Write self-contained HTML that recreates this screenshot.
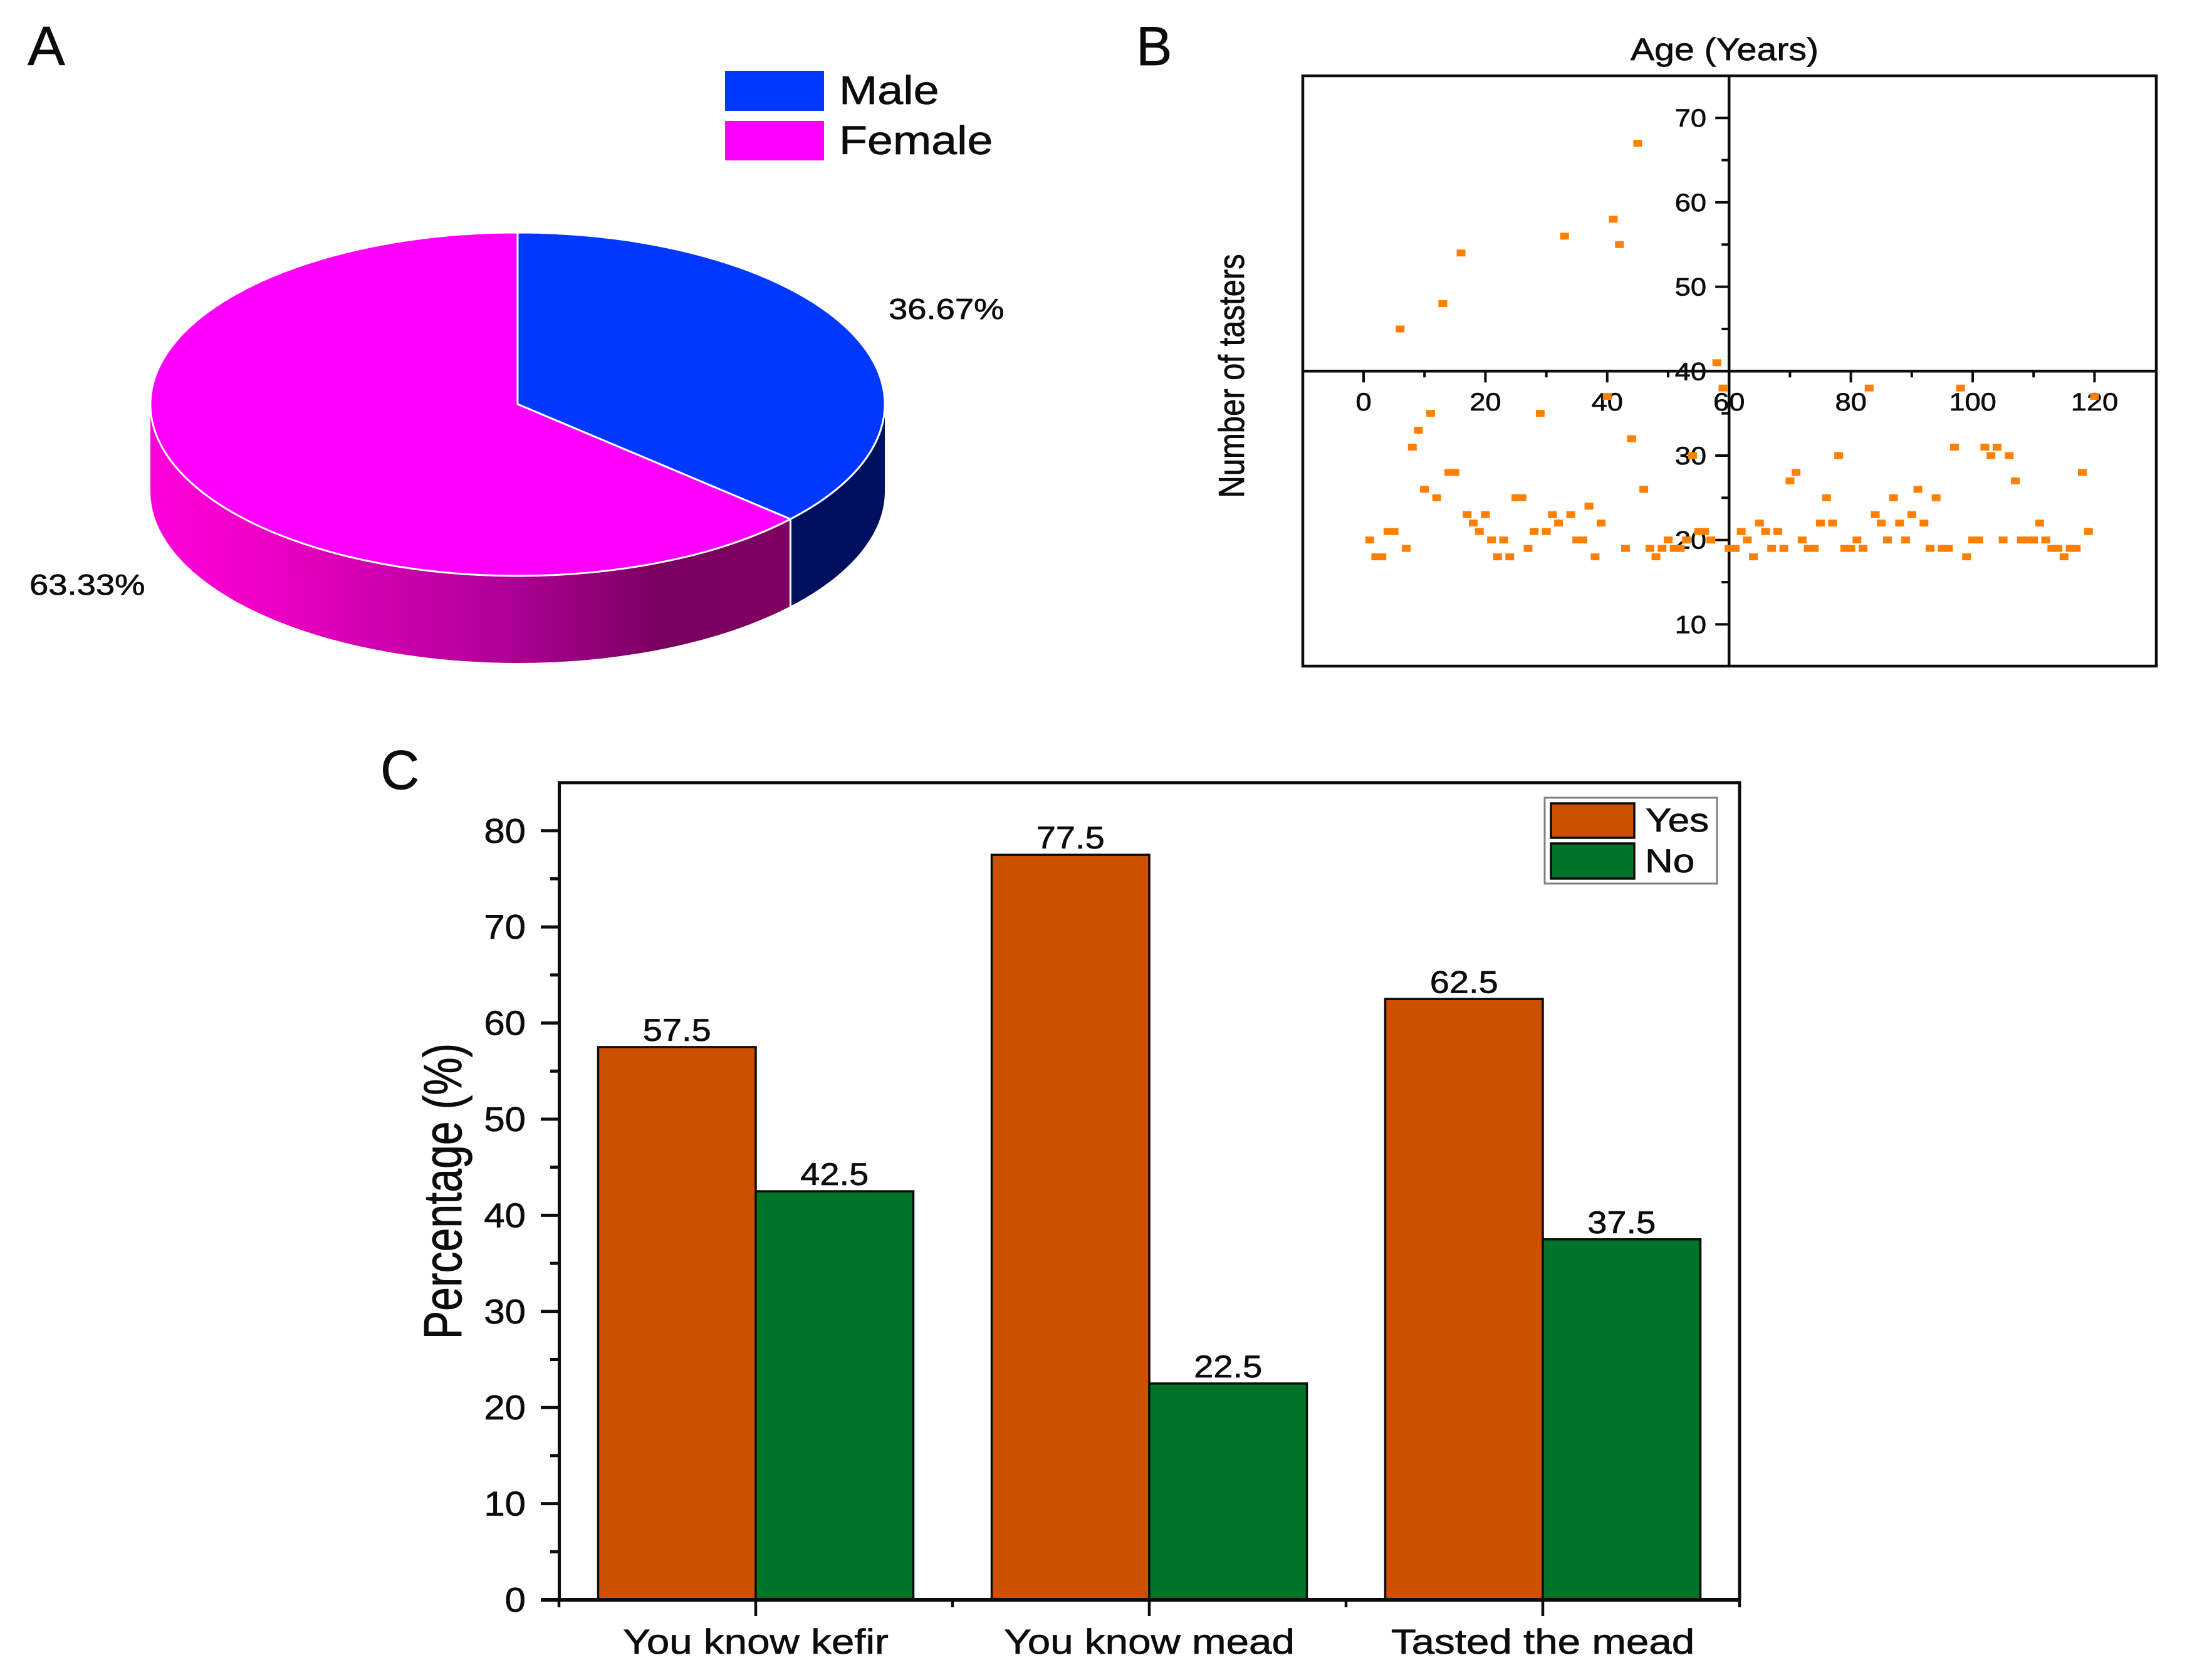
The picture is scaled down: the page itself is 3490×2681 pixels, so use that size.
<!DOCTYPE html>
<html lang="en">
<head>
<meta charset="utf-8">
<title>Tasters survey figure</title>
<style>
html,body{margin:0;padding:0;background:#fff;width:3490px;height:2681px;overflow:hidden}
svg{display:block}
text{font-family:"Liberation Sans",Arial,sans-serif;fill:#0c0c0c;stroke:#0c0c0c;stroke-width:0.7}
</style>
</head>
<body>
<svg id="figure" xmlns="http://www.w3.org/2000/svg" width="3490" height="2681" viewBox="0 0 3490 2681">
  <defs>
    <linearGradient id="femaleSide" gradientUnits="userSpaceOnUse" x1="240" y1="0" x2="1263" y2="0">
      <stop offset="0" stop-color="#ff00dc"/>
      <stop offset="0.16" stop-color="#f000c8"/>
      <stop offset="0.55" stop-color="#b00098"/>
      <stop offset="0.8" stop-color="#7a0060"/>
      <stop offset="1" stop-color="#800060"/>
    </linearGradient>
  </defs>
  <rect width="3490" height="2681" fill="#ffffff"/>

  <text transform="translate(44,104) scale(1.02,1)" font-size="88">A</text>
  <text transform="translate(1813,104) scale(0.98,1)" font-size="88">B</text>
  <text transform="translate(607,1259) scale(0.98,1)" font-size="88">C</text>

  <g id="pie"></g>
  <g>
    <rect x="1156" y="112" width="160" height="66" fill="#0038ff" stroke="#fff" stroke-width="2"/>
    <rect x="1156" y="192" width="160" height="65" fill="#ff00ff" stroke="#fff" stroke-width="2"/>
    <text transform="translate(1339,166) scale(1.15,1)" font-size="64">Male</text>
    <text transform="translate(1339,246) scale(1.15,1)" font-size="64">Female</text>
  </g>
  <text transform="translate(1418,509) scale(1.17,1)" font-size="46.5">36.67%</text>
  <text transform="translate(47,949) scale(1.17,1)" font-size="46.5">63.33%</text>

  <g id="scatter"></g>
  <text transform="translate(2752,96) scale(1.145,1)" font-size="50" text-anchor="middle">Age (Years)</text>
  <text transform="translate(1985,600) scale(1.18,1) rotate(-90)" font-size="49" text-anchor="middle">Number of tasters</text>

  <g id="bars"></g>
  <text transform="translate(736,1901) scale(1.25,1) rotate(-90)" font-size="68" text-anchor="middle">Percentage (%)</text>
  <g>
    <rect x="2465" y="1273" width="275" height="137" fill="#fff" stroke="#808080" stroke-width="3"/>
    <rect x="2475" y="1282" width="133" height="55" fill="#cc5000" stroke="#0c0c0c" stroke-width="3.5"/>
    <rect x="2475" y="1346" width="133" height="56" fill="#007428" stroke="#0c0c0c" stroke-width="3.5"/>
    <text transform="translate(2626,1327) scale(1.17,1)" font-size="53">Yes</text>
    <text transform="translate(2625,1392) scale(1.17,1)" font-size="53">No</text>
  </g>
</svg>

<script>
// ---- Panel A data ----
const pieLabels = ['male', 'female'];
const pieShares = [36.67, 63.33];

// ---- Panel B data ----
const scatterAges = [20,18,18,21,21,45,19,31,33,26,35,25,48,28,28,54,23,22,21,23,20,18,20,18,25,25,19,21,35,21,23,22,56,23,20,20,24,18,22,37,58,55,19,32,67,26,19,18,19,20,19,19,20,30,21,21,20,41,38,19,19,21,20,18,22,21,19,21,19,27,28,20,19,19,22,25,22,30,19,19,20,19,38,23,22,20,25,22,20,23,26,22,19,25,19,19,31,38,18,20,20,31,30,31,20,30,27,20,20,20,22,20,19,19,18,19,19,28,21,37];
const scatterXMajor = [0,20,40,60,80,100,120];
const scatterXMinor = [10,30,50,70,90,110];
const scatterYMajor = [10,20,30,40,50,60,70];
const scatterYMinor = [15,25,35,45,55,65];

// ---- Panel C data ----
const barCategories = ['You know kefir', 'You know mead', 'Tasted the mead'];
const yesValues = [57.5, 77.5, 62.5];
const noValues = [42.5, 22.5, 37.5];
const barYMajor = [0,10,20,30,40,50,60,70,80];
const barYMinor = [5,15,25,35,45,55,65,75];

const NS = 'http://www.w3.org/2000/svg';
const INK = '#0c0c0c';
function mk(parent, tag, attrs) {
  const el = document.createElementNS(NS, tag);
  for (const k in attrs) el.setAttribute(k, attrs[k]);
  parent.appendChild(el);
  return el;
}
function label(parent, str, x, y, size, anchor, sx) {
  const el = mk(parent, 'text', {transform: 'translate(' + x + ',' + y + ') scale(' + sx + ',1)', 'font-size': size, 'text-anchor': anchor});
  el.textContent = str;
  return el;
}

// ---- Panel A: pie ----
(function () {
  const g = document.getElementById('pie');
  const cx = 826, cy = 645, rx = 586, ry = 274, depth = 139;
  const colors = ['#0038ff', '#ff00ff'];
  const sideColors = ['#001060', 'url(#femaleSide)'];
  const total = pieShares.reduce(function (a, b) { return a + b; }, 0);
  const px = function (a) { return cx + rx * Math.sin(a); };
  const py = function (a) { return cy - ry * Math.cos(a); };
  let start = 0;
  const slices = pieShares.map(function (v) {
    const s = {a0: start, a1: start + v / total * 2 * Math.PI};
    start = s.a1;
    return s;
  });
  slices.forEach(function (s, i) {
    const a0 = Math.max(s.a0, Math.PI / 2), a1 = Math.min(s.a1, 1.5 * Math.PI);
    if (a1 <= a0) return;
    const side = mk(g, 'path', {
      d: 'M' + px(a0) + ' ' + py(a0) + ' A' + rx + ' ' + ry + ' 0 0 1 ' + px(a1) + ' ' + py(a1) +
         ' L' + px(a1) + ' ' + (py(a1) + depth) + ' A' + rx + ' ' + ry + ' 0 0 0 ' + px(a0) + ' ' + (py(a0) + depth) + ' Z',
      fill: sideColors[i]
    });
    
    
  });
  const sep = mk(g, 'line', {x1: px(slices[0].a1), y1: py(slices[0].a1), x2: px(slices[0].a1), y2: py(slices[0].a1) + depth, stroke: '#fff', 'stroke-width': 3});
  
  
  slices.forEach(function (s, i) {
    const large = (s.a1 - s.a0) > Math.PI ? 1 : 0;
    const top = mk(g, 'path', {
      d: 'M' + cx + ' ' + cy + ' L' + px(s.a0) + ' ' + py(s.a0) + ' A' + rx + ' ' + ry + ' 0 ' + large + ' 1 ' + px(s.a1) + ' ' + py(s.a1) + ' Z',
      fill: colors[i], stroke: '#fff', 'stroke-width': 3, 'stroke-linejoin': 'round'
    });
    
    
  });
})();

// ---- Panel B: scatter ----
(function () {
  const g = document.getElementById('scatter');
  const xs = function (v) { return 2176 + 9.72 * v; };
  const ys = function (v) { return 592.3 - (v - 40) * 13.47; };
  const frame = mk(g, 'rect', {x: 2079, y: 121, width: 1362, height: 942, fill: 'none', stroke: INK, 'stroke-width': 4.5});
  
  
  const axX = mk(g, 'line', {x1: 2079, x2: 3441, y1: ys(40), y2: ys(40), stroke: INK, 'stroke-width': 4.5});
  
  
  const axY = mk(g, 'line', {x1: xs(60), x2: xs(60), y1: 121, y2: 1063, stroke: INK, 'stroke-width': 4.5});
  
  
  scatterXMajor.forEach(function (v) {
    const t = mk(g, 'line', {x1: xs(v), x2: xs(v), y1: ys(40), y2: ys(40) + 18, stroke: INK, 'stroke-width': 4});
    
    
    const l = label(g, String(v), xs(v), 655, 40, 'middle', 1.13);
    
    
  });
  scatterXMinor.forEach(function (v) {
    const t = mk(g, 'line', {x1: xs(v), x2: xs(v), y1: ys(40), y2: ys(40) + 10, stroke: INK, 'stroke-width': 4});
    
    
  });
  scatterYMajor.forEach(function (v) {
    const t = mk(g, 'line', {x1: xs(60) - 22, x2: xs(60), y1: ys(v), y2: ys(v), stroke: INK, 'stroke-width': 4});
    
    
    const l = label(g, String(v), 2723, ys(v) + 14, 40, 'end', 1.13);
    
    
  });
  scatterYMinor.forEach(function (v) {
    const t = mk(g, 'line', {x1: xs(60) - 12, x2: xs(60), y1: ys(v), y2: ys(v), stroke: INK, 'stroke-width': 4});
    
    
  });
  scatterAges.forEach(function (v, i) {
    const p = mk(g, 'rect', {x: xs(i + 1) - 7, y: ys(v) - 5.5, width: 14, height: 11, fill: '#ff8000'});
    
    
  });
})();

// ---- Panel C: bars ----
(function () {
  const g = document.getElementById('bars');
  const yb = function (v) { return 2553 - 15.34 * v; };
  const barW = 251.5;
  const center = function (i) { return 1206 + 628 * i; };
  const frame = mk(g, 'path', {d: 'M892.5 2553 V1249 H2776 V2553', fill: 'none', stroke: INK, 'stroke-width': 5});
  
  
  barCategories.forEach(function (c, i) {
    const by = mk(g, 'rect', {x: center(i) - barW, y: yb(yesValues[i]), width: barW, height: yb(0) - yb(yesValues[i]), fill: '#cc5000', stroke: INK, 'stroke-width': 3.5});
    
    
    const bn = mk(g, 'rect', {x: center(i), y: yb(noValues[i]), width: barW, height: yb(0) - yb(noValues[i]), fill: '#007428', stroke: INK, 'stroke-width': 3.5});
    
    
    const ly = label(g, yesValues[i].toFixed(1), center(i) - barW / 2, yb(yesValues[i]) - 10, 50, 'middle', 1.12);
    
    
    const ln = label(g, noValues[i].toFixed(1), center(i) + barW / 2, yb(noValues[i]) - 10, 50, 'middle', 1.12);
    
    
    const tk = mk(g, 'line', {x1: center(i), x2: center(i), y1: 2553, y2: 2579, stroke: INK, 'stroke-width': 4.5});
    
    
    const cat = label(g, c, center(i), 2639, 56, 'middle', 1.17);
    
    
    const mt = mk(g, 'line', {x1: center(i) - 314, x2: center(i) - 314, y1: 2553, y2: 2565, stroke: INK, 'stroke-width': 4.5});
    
    
  });
  const mtEnd = mk(g, 'line', {x1: center(barCategories.length - 1) + 314, x2: center(barCategories.length - 1) + 314, y1: 2553, y2: 2565, stroke: INK, 'stroke-width': 4.5});
  
  
  const base = mk(g, 'line', {x1: 863, x2: 2778, y1: yb(0), y2: yb(0), stroke: INK, 'stroke-width': 6});
  
  
  barYMajor.forEach(function (v) {
    const t = mk(g, 'line', {x1: 863, x2: 892, y1: yb(v), y2: yb(v), stroke: INK, 'stroke-width': 5});
    
    
    const l = label(g, String(v), 839, yb(v) + 19, 55, 'end', 1.09);
    
    
  });
  barYMinor.forEach(function (v) {
    const t = mk(g, 'line', {x1: 878, x2: 892, y1: yb(v), y2: yb(v), stroke: INK, 'stroke-width': 5});
    
    
  });
})();
</script>
</body>
</html>
